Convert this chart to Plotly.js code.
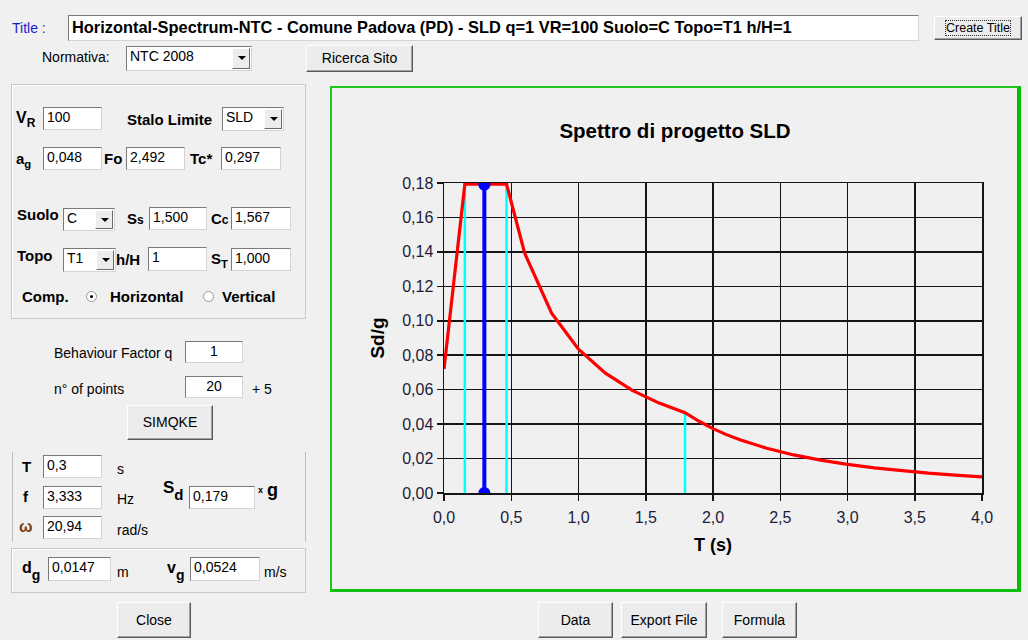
<!DOCTYPE html>
<html>
<head>
<meta charset="utf-8">
<script src="https://cdn.plot.ly/plotly-3.0.1.min.js"></script>
<style>
  html,body{margin:0;padding:0;background:#f0f0f0;width:1028px;height:640px;overflow:hidden;}
  #wrap{position:relative;width:1028px;height:640px;font-family:"Liberation Sans",Arial,sans-serif;color:#000;}
  #chart{position:absolute;left:0;top:0;width:1028px;height:640px;}
  .ui{position:absolute;box-sizing:border-box;white-space:nowrap;z-index:5;}
  .lbl{font-size:14px;line-height:16px;}
  .tb{background:#fff;border:1px solid;border-color:#7a7a7a #d4d4d4 #d4d4d4 #7a7a7a;font-size:14px;padding:1px 0 0 3px;line-height:16px;}
  .btn{background:#ececec;border:1px solid;border-color:#ffffff #5a5a5a #5a5a5a #ffffff;box-shadow:inset -1px -1px #a0a0a0;font-size:14px;text-align:center;}
  .arrow{position:absolute;top:1px;bottom:1px;right:1px;width:18px;background:#ececec;border:1px solid;border-color:#fff #6a6a6a #6a6a6a #fff;box-sizing:border-box;}
  .arrow:after{content:"";position:absolute;left:5px;top:7px;border-left:4px solid transparent;border-right:4px solid transparent;border-top:4px solid #000;}
  .grp{position:absolute;box-sizing:border-box;border:1px solid #c8c8c8;box-shadow:inset 1px 1px #fff;z-index:4;}
  .radio{position:absolute;width:11px;height:11px;border-radius:50%;background:#fff;border:1px solid #999;box-sizing:border-box;z-index:5;}
  .dot{position:absolute;left:3px;top:3px;width:3px;height:3px;border-radius:50%;background:#000;}
  sub{font-size:75%;vertical-align:-4px;line-height:0;}
</style>
</head>
<body>
<div id="wrap">
  <div id="chart"></div>
</div>
<script>
// ---- chart data ----
var periodT    = [0, 0.155, 0.465, 0.6, 0.8, 1.0, 1.2, 1.4, 1.6, 1.792, 1.9, 2.0, 2.1, 2.2, 2.4, 2.6, 2.8, 3.0, 3.2, 3.4, 3.6, 3.8, 4.0];
var spectrumSd = [0.0720, 0.1794, 0.1794, 0.1392, 0.1044, 0.0835, 0.0696, 0.0596, 0.0522, 0.0466, 0.0415, 0.0374, 0.0339, 0.0309, 0.0260, 0.0221, 0.0191, 0.0166, 0.0146, 0.0129, 0.0115, 0.0104, 0.0094];
var cornerT    = [0.155, 0.465, 1.792];
var cornerSd   = [0.1794, 0.1794, 0.0466];
var selectedT  = 0.3;
var selectedSd = 0.179;
var xTicks = [0, 0.5, 1.0, 1.5, 2.0, 2.5, 3.0, 3.5, 4.0];
var yTicks = [0, 0.02, 0.04, 0.06, 0.08, 0.10, 0.12, 0.14, 0.16, 0.18];
var chartTitle = "Spettro di progetto SLD";
var xTitle = "T (s)";
var yTitle = "Sd/g";

// cyan corner-period lines
var cx = [], cy = [];
for (var i = 0; i < cornerT.length; i++) {
  cx.push(cornerT[i], cornerT[i], null);
  cy.push(0, cornerSd[i], null);
}

var traces = [
  {x: cx, y: cy, mode: 'lines', line: {color: '#00ffff', width: 2.5}, hoverinfo: 'skip', showlegend: false},
  {x: periodT, y: spectrumSd, mode: 'lines', line: {color: '#ff0000', width: 3.2}, showlegend: false},
  {x: [selectedT, selectedT], y: [0, selectedSd], mode: 'lines+markers', line: {color: '#0000ff', width: 4},
   marker: {color: '#0000ff', size: 12}, cliponaxis: true, showlegend: false}
];

var FONT = 'Liberation Sans, Arial, sans-serif';
var tickFont = {family: FONT, size: 16, color: '#1c1c3a'};
var axBase = {
  showgrid: true, gridcolor: '#151515', gridwidth: 1.5,
  showline: true, linecolor: '#151515', linewidth: 1.5, mirror: true,
  ticks: 'outside', ticklen: 6, tickcolor: '#151515', tickwidth: 1.5,
  zeroline: false, tickfont: tickFont, fixedrange: true
};
var layout = {
  width: 1028, height: 640,
  paper_bgcolor: '#f0f0f0', plot_bgcolor: '#f0f0f0',
  margin: {l: 444, r: 46, t: 183, b: 147},
  separators: ',.',
  showlegend: false,
  title: {text: '<b>' + chartTitle + '</b>', font: {family: FONT, size: 20.5, color: '#000'},
          xref: 'paper', x: 0.4294, xanchor: 'center', yref: 'container', y: 1 - 131/640, yanchor: 'middle'},
  xaxis: Object.assign({}, axBase, {range: [0, 4], tickmode: 'array', tickvals: xTicks, tickformat: '.1f',
          ticklabelstandoff: 3,
          title: {text: '<b>' + xTitle + '</b>', font: {family: FONT, size: 18, color: '#000'}, standoff: 13}}),
  yaxis: Object.assign({}, axBase, {range: [0, 0.18], tickmode: 'array', tickvals: yTicks, tickformat: '.2f',
          title: {text: '<b>' + yTitle + '</b>', font: {family: FONT, size: 19, color: '#000'}, standoff: 12}})
};
Plotly.newPlot('chart', traces, layout, {displayModeBar: false, staticPlot: true});

// ---- surrounding dialog (static UI) ----
var wrap = document.getElementById('wrap');
function add(cls, x, y, w, h, html, style) {
  var d = document.createElement('div');
  d.className = cls;
  d.style.left = x + 'px'; d.style.top = y + 'px';
  if (w != null) d.style.width = w + 'px';
  if (h != null) d.style.height = h + 'px';
  if (html != null) d.innerHTML = html;
  if (style) d.style.cssText += style;
  wrap.appendChild(d);
  return d;
}
function btn(x, y, w, h, t, style) { return add('ui btn', x, y, w, h, t, 'line-height:' + (h - 2) + 'px;' + (style || '')); }
function tb(x, y, w, h, t, style) { return add('ui tb', x, y, w, h, t, style); }
function combo(x, y, w, h, t) { var d = tb(x, y, w, h, t); var a = document.createElement('div'); a.className = 'arrow'; d.appendChild(a); return d; }
function lbl(x, y, t, style) { return add('ui lbl', x, y, null, null, t, style); }
var B = 'font-weight:bold;font-size:15px;';

// green chart frame
add('ui', 330, 86, 691, 506, '', 'border:2px solid #1ec81e;border-right:4px solid #00c000;border-bottom:3px solid #10c010;pointer-events:none;');

// top row
lbl(12, 20, 'Title :', 'color:#1a1acc;font-size:14px;');
tb(68, 15, 851, 26, 'Horizontal-Spectrum-NTC - Comune Padova (PD) - SLD q=1 VR=100 Suolo=C Topo=T1 h/H=1',
   'font-weight:bold;font-size:16.4px;padding-top:3px;');
btn(934, 16, 88, 24, '<span style="outline:1px dotted #333;outline-offset:0px;">Create Title</span>', 'font-size:12.5px;');
lbl(42, 49, 'Normativa:');
combo(126, 46, 126, 25, 'NTC 2008');
btn(306, 45, 107, 27, 'Ricerca Sito');

// group 1
add('grp', 11, 84, 295, 235, '');
lbl(16, 110, '<span style="font-size:16px">V<sub>R</sub></span>', 'font-weight:bold;');
tb(43, 107, 59, 23, '100');
lbl(127, 112, 'Stalo Limite', B);
combo(222, 107, 62, 24, 'SLD');
lbl(16, 151, '<span style="font-size:15px">a<sub>g</sub></span>', 'font-weight:bold;');
tb(43, 147, 59, 23, '0,048');
lbl(104, 151, 'Fo', B);
tb(126, 147, 59, 23, '2,492');
lbl(190, 151, 'Tc*', B);
tb(221, 147, 60, 23, '0,297');
lbl(17, 207, 'Suolo', B);
combo(63, 208, 52, 23, 'C');
lbl(127, 211, 'S<span style="font-size:12px">s</span>', B);
tb(149, 207, 58, 23, '1,500');
lbl(211, 211, 'C<span style="font-size:12px">c</span>', B);
tb(231, 207, 60, 23, '1,567');
lbl(17, 248, 'Topo', B);
combo(63, 248, 53, 24, 'T1');
lbl(116, 252, 'h/H', B);
tb(148, 247, 59, 24, '1');
lbl(211, 251, 'S<sub>T</sub>', B);
tb(231, 248, 60, 23, '1,000');
lbl(22, 289, 'Comp.', B);
var r1 = add('radio', 86, 291, null, null, ''); var dd = document.createElement('div'); dd.className = 'dot'; r1.appendChild(dd);
lbl(110, 289, 'Horizontal', B);
add('radio', 203, 291, null, null, '');
lbl(222, 289, 'Vertical', B);

// behaviour / points
lbl(54, 345, 'Behaviour Factor q');
tb(185, 341, 58, 22, '1', 'text-align:center;padding-left:0;');
lbl(54, 381, 'n° of points');
tb(185, 376, 58, 22, '20', 'text-align:center;padding-left:0;');
lbl(252, 381, '+ 5');
btn(127, 405, 86, 35, 'SIMQKE');

// period group (side lines only)
add('ui', 12, 452, 1, 90, '', 'background:#bdbdbd;');
add('ui', 305, 452, 1, 90, '', 'background:#bdbdbd;');
lbl(22, 459, 'T', B);
tb(43, 455, 59, 23, '0,3');
lbl(117, 461, 's');
lbl(23, 489, 'f', B);
tb(43, 486, 59, 23, '3,333');
lbl(117, 491, 'Hz');
lbl(163, 480, '<span style="font-size:17px">S</span><sub style="font-size:15px;vertical-align:-7px;">d</sub>', 'font-weight:bold;');
tb(189, 486, 66, 23, '0,179');
lbl(258, 482, '<span style="font-size:9px;vertical-align:3px">x</span> <span style="font-size:18px">g</span>', 'font-weight:bold;');
lbl(19, 519, '&omega;', 'font-weight:bold;font-size:16px;color:#7a3c10;');
tb(43, 516, 59, 23, '20,94');
lbl(117, 522, 'rad/s');

// dg / vg group
add('grp', 11, 548, 295, 45, '');
lbl(22, 560, '<span style="font-size:16px">d</span><sub style="font-size:14px;vertical-align:-7px;">g</sub>', 'font-weight:bold;');
tb(48, 557, 63, 24, '0,0147');
lbl(117, 564, 'm');
lbl(167, 560, '<span style="font-size:16px">v</span><sub style="font-size:14px;vertical-align:-7px;">g</sub>', 'font-weight:bold;');
tb(190, 557, 70, 24, '0,0524');
lbl(264, 564, 'm/s');

// bottom buttons
btn(117, 602, 74, 36, 'Close');
btn(538, 602, 75, 36, 'Data');
btn(621, 602, 86, 36, 'Export File');
btn(722, 602, 75, 36, 'Formula');
</script>
</body>
</html>
